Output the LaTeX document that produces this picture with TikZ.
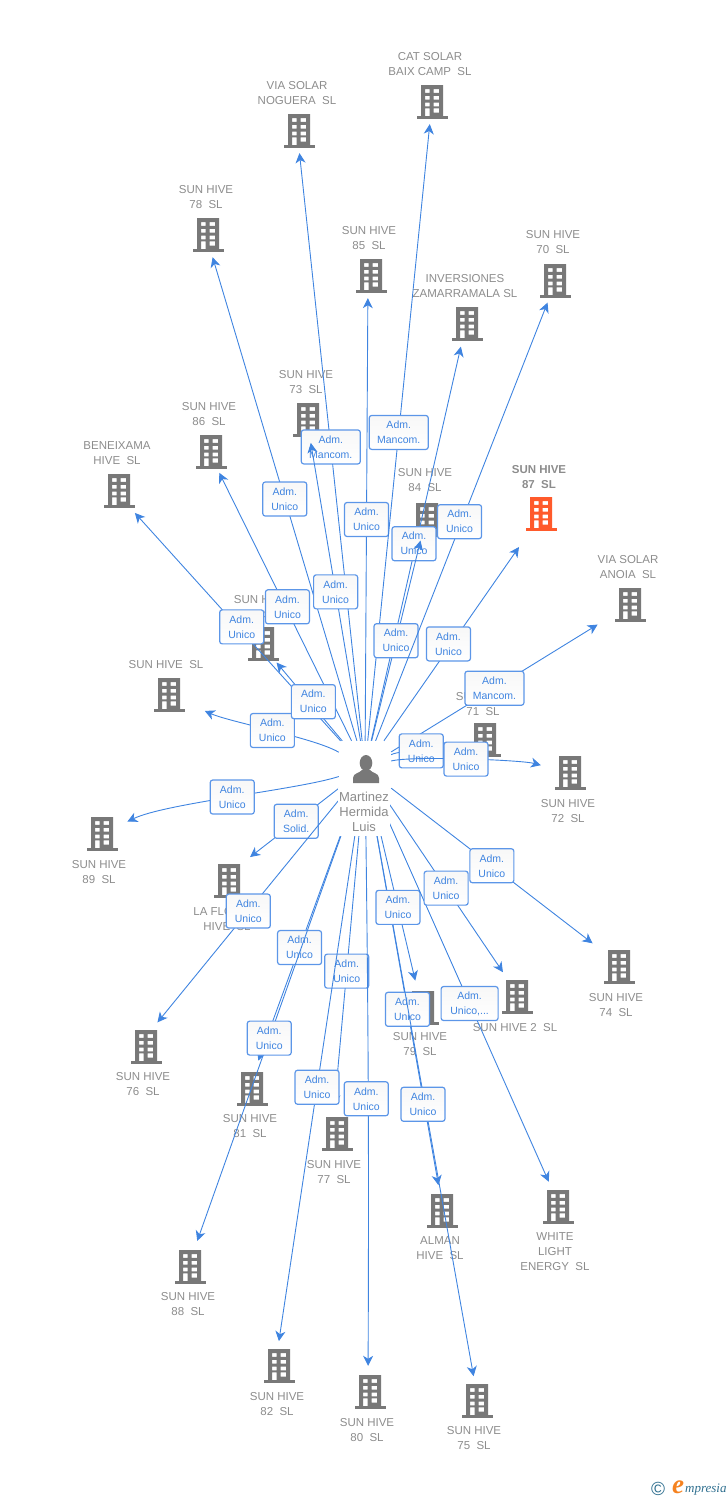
\documentclass[tikz,border=0pt]{standalone}
\usepackage{fontspec}
\setmainfont{Liberation Sans}
\newfontfamily\logofont{Liberation Serif}
\usetikzlibrary{arrows.meta}
\definecolor{sitegray}{HTML}{787878}
\definecolor{sitetextgray}{HTML}{8C8C8C}
\definecolor{siteorange}{HTML}{FF5A2B}
\definecolor{linkblue}{HTML}{3F84E0}
\definecolor{admblue}{HTML}{5C96E8}
\definecolor{admtext}{HTML}{3F84E0}
\definecolor{logoteal}{HTML}{2F6F8F}
\definecolor{logoorange}{HTML}{F58220}
\tikzset{
  site/.style={circle,minimum size=#1,inner sep=0pt},
  sitetext/.style={font=\fontsize{11.5}{15}\selectfont,text=sitetextgray,align=center,inner sep=0pt,yshift=-1pt},
  hubbox/.style={rectangle,minimum width=52pt,minimum height=54pt,inner sep=0pt},
  hubtext/.style={font=\fontsize{13}{15}\selectfont,text=sitetextgray,fill=white,align=center,inner sep=0pt,minimum width=52pt,minimum height=48pt},
  link/.style={draw=linkblue,line width=0.9pt,-{Stealth[length=10pt,width=10pt,inset=3pt]}},
  adm/.style={rectangle,rounded corners=2.5pt,draw=admblue,line width=1.2pt,top color=black!3,bottom color=white,
    text=admtext,font=\fontsize{10.5}{15}\selectfont,align=center,inner sep=0pt,minimum width=44pt,minimum height=34pt},
  admwide/.style={adm,minimum width=59pt},
  bldg/.pic={
    \fill [#1,even odd rule] (-11,-17) rectangle (11,14)
      (-7,-13) rectangle (-2.3,-9.1) (1.6,-13) rectangle (7,-9.1)
      (-7,-6.2) rectangle (-2.3,-2.4) (1.6,-6.2) rectangle (7,-2.4)
      (-7,0.5) rectangle (-2.3,4.3) (1.6,0.5) rectangle (7,4.3)
      (-7,6.3) rectangle (-2.3,14) (1.6,6.3) rectangle (7,10.5);
    \fill [#1] (-15.5,14) rectangle (15.5,17);
  },
  person/.pic={
    \fill [sitegray] (0,-7) ellipse (6.3 and 8);
    \fill [sitegray] (-13,13) -- (-13,8) .. controls (-13,3) and (-6,3) .. (-4,0) -- (4,0) .. controls (6,3) and (13,3) .. (13,8) -- (13,13) -- cycle;
  }
}
\begin{document}
\begin{tikzpicture}[x=1pt,y=-1pt]
\useasboundingbox (0,0) rectangle (728,1500);
\node [hubbox] (hub) at (365,768) {};
\pic at (366,770) {person};
% sites above the hub
\node [site=44] (nCat) at (432,102) {}; \pic at (432,102) {bldg=sitegray};
\node [sitetext] (tCat) at (430,63) {CAT SOLAR\\BAIX CAMP~~SL};
\node [site=46] (nNog) at (297,130) {}; \pic at (299,131) {bldg=sitegray};
\node [sitetext] (tNog) at (297,92) {VIA SOLAR\\NOGUERA~~SL};
\node [site=46] (n78) at (206,235) {}; \pic at (208,235) {bldg=sitegray};
\node [sitetext] (t78) at (206,196) {SUN HIVE\\78~~SL};
\node [site=44] (n85) at (368,276) {}; \pic at (371,276) {bldg=sitegray};
\node [sitetext] (t85) at (369,237) {SUN HIVE\\85~~SL};
\node [site=46] (nInv) at (466,324) {}; \pic at (467,324) {bldg=sitegray};
\node [sitetext] (tInv) at (465,285) {INVERSIONES\\ZAMARRAMALA SL};
\node [site=46] (n70) at (556,281) {}; \pic at (555,281) {bldg=sitegray};
\node [sitetext] (t70) at (553,241) {SUN HIVE\\70~~SL};
\node [site=46] (n73) at (307,420) {}; \pic at (308,420) {bldg=sitegray};
\node [sitetext] (t73) at (306,381) {SUN HIVE\\73~~SL};
\node [site=46] (n86) at (209,452) {}; \pic at (211,452) {bldg=sitegray};
\node [sitetext] (t86) at (209,413) {SUN HIVE\\86~~SL};
\node [site=56] (nBen) at (116,492) {}; \pic at (119,491) {bldg=sitegray};
\node [sitetext] (tBen) at (117,452) {BENEIXAMA\\HIVE~~SL};
\node [site=46] (n84) at (426,518) {}; \pic at (427,520) {bldg=sitegray};
\node [sitetext] (t84) at (425,479) {SUN HIVE\\84~~SL};
\node [site=80] (n87) at (542,514) {}; \pic at (541,514) {bldg=siteorange};
\node [sitetext,font=\bfseries\fontsize{11.5}{15}\selectfont] (t87) at (539,476) {SUN HIVE\\87~~SL};
\node [site=78] (nAno) at (631,604) {}; \pic at (630,605) {bldg=sitegray};
\node [sitetext] (tAno) at (628,566) {VIA SOLAR\\ANOIA~~SL};
\node [site=48] (n83) at (261,644) {}; \pic at (263,644) {bldg=sitegray};
\node [sitetext] (t83) at (261,606) {SUN HIVE\\83~~SL};
\node [site=78] (nSl) at (169,695) {}; \pic at (169,695) {bldg=sitegray};
\node [sitetext] (tSl) at (166,664) {SUN HIVE~~SL};
\node [site=68] (n71) at (485,740) {}; \pic at (485,740) {bldg=sitegray};
\node [sitetext] (t71) at (483,703) {SUN HIVE\\71~~SL};
\node [site=60] (n72) at (570,773) {}; \pic at (570,773) {bldg=sitegray};
\node [sitetext] (t72) at (568,810) {SUN HIVE\\72~~SL};
% sites below the hub
\node [site=56] (n89) at (102,834) {}; \pic at (102,834) {bldg=sitegray};
\node [sitetext] (t89) at (99,871) {SUN HIVE\\89~~SL};
\node [site=68] (nFlo) at (223,878) {}; \pic at (229,881) {bldg=sitegray};
\node [sitetext] (tFlo) at (227,918) {LA FLORIDA\\HIVE~~SL};
\node [site=58] (n76) at (139,1045) {}; \pic at (146,1047) {bldg=sitegray};
\node [sitetext] (t76) at (143,1083) {SUN HIVE\\76~~SL};
\node [site=74] (n74) at (622,966) {}; \pic at (619,967) {bldg=sitegray};
\node [sitetext] (t74) at (616,1004) {SUN HIVE\\74~~SL};
\node [site=57] (n2) at (519,996) {}; \pic at (517,997) {bldg=sitegray};
\node [sitetext] (t2) at (515,1027) {SUN HIVE 2~~SL};
\node [site=55] (nWhi) at (560,1207) {}; \pic at (558,1207) {bldg=sitegray};
\node [sitetext] (tWhi) at (555,1251) {WHITE\\LIGHT\\ENERGY~~SL};
\node [site=58] (n79) at (422,1009) {}; \pic at (423,1008) {bldg=sitegray};
\node [sitetext] (t79) at (420,1043) {SUN HIVE\\79~~SL};
\node [site=52] (nAlm) at (443,1211) {}; \pic at (442,1211) {bldg=sitegray};
\node [sitetext] (tAlm) at (440,1247) {ALMAN\\HIVE~~SL};
\node [site=50] (n75) at (478,1401) {}; \pic at (477,1401) {bldg=sitegray};
\node [sitetext] (t75) at (474,1437) {SUN HIVE\\75~~SL};
\node [site=52] (n80) at (368,1392) {}; \pic at (370,1392) {bldg=sitegray};
\node [sitetext] (t80) at (367,1429) {SUN HIVE\\80~~SL};
\node [site=58] (n77) at (332,1134) {}; \pic at (337,1134) {bldg=sitegray};
\node [sitetext] (t77) at (334,1171) {SUN HIVE\\77~~SL};
\node [site=52] (n82) at (275,1367) {}; \pic at (279,1366) {bldg=sitegray};
\node [sitetext] (t82) at (277,1403) {SUN HIVE\\82~~SL};
\node [site=60] (n81) at (248,1089) {}; \pic at (252,1089) {bldg=sitegray};
\node [sitetext] (t81) at (250,1125) {SUN HIVE\\81~~SL};
\node [site=55] (n88) at (188,1267) {}; \pic at (190,1267) {bldg=sitegray};
\node [sitetext] (t88) at (188,1303) {SUN HIVE\\88~~SL};
% links, in the order they overlap
\draw [link] (hub) to [out=149,in=336,looseness=0.5] node [adm] (aSl) {Adm.\\Unico} (nSl);
\draw [link] (hub) -- node [adm] (a78) {Adm.\\Unico} (n78);
\draw [link] (hub) -- node [adm,xshift=2pt] (a86) {Adm.\\Unico} (n86);
\draw [link] (hub) -- node [adm,xshift=4pt] (aBen) {Adm.\\Unico} (nBen);
\draw [link] (hub) -- node [adm,xshift=4pt] (a83) {Adm.\\Unico} (n83);
\draw [link] (hub) -- node [admwide] (aNog) {Adm.\\Mancom.} (nNog);
\draw [link] (hub) -- node [adm] (a73) {Adm.\\Unico} (n73);
\draw [link] (hub) -- node [adm] (a85) {Adm.\\Unico} (n85);
\draw [link] (hub) -- node [admwide] (aCat) {Adm.\\Mancom.} (nCat);
\draw [link] (hub) -- node [adm,xshift=-2pt] (aInv) {Adm.\\Unico} (nInv);
\draw [link] (hub) -- node [adm] (a84) {Adm.\\Unico} (n84);
\draw [link] (hub) -- node [adm,xshift=-2pt] (a70) {Adm.\\Unico} (n70);
\draw [link] (hub) -- node [adm,xshift=-3pt] (a87) {Adm.\\Unico} (n87);
\draw [link] (hub) -- node [admwide] (aAno) {Adm.\\Mancom.} (nAno);
\draw [link] (hub) to [out=27,in=195,looseness=0.5] node [adm] (a71) {Adm.\\Unico} (n71);
\draw [link] (hub) to [out=15,in=165,looseness=0.35] node [adm] (a72) {Adm.\\Unico} (n72);
\draw [link] (hub) to [out=198,in=26,looseness=0.5] node [adm] (a89) {Adm.\\Unico} (n89);
\draw [link] (hub) -- node [adm,pos=0.48] (aFlo) {Adm.\\Solid.} (nFlo);
\draw [link] (hub) -- node [adm,pos=0.51] (a76) {Adm.\\Unico} (n76);
\draw [link] (hub) -- node [adm,pos=0.574] (a81) {Adm.\\Unico} (n81);
\draw [link] (hub) -- node [adm,pos=0.545] (a88) {Adm.\\Unico} (n88);
\draw [link] (hub) -- node [adm,pos=0.568] (a77) {Adm.\\Unico} (n77);
\draw [link] (hub) -- node [adm,pos=0.535] (a82) {Adm.\\Unico} (n82);
\draw [link] (hub) to [bend left=0.5] node [adm,xshift=-2pt,pos=0.535] (a80) {Adm.\\Unico} (n80);
\draw [link] (hub) -- node [adm,pos=0.549] (aAlm) {Adm.\\Unico} (nAlm);
\draw [link] (hub) -- node [adm,xshift=-2pt,pos=0.532] (a75) {Adm.\\Unico} (n75);
\draw [link] (hub) -- node [adm,pos=0.605] (a79) {Adm.\\Unico} (n79);
\draw [link] (hub) -- node [admwide,minimum width=57pt,pos=0.539] (aWhi) {Adm.\\Unico,...} (nWhi);
\draw [link] (hub) -- node [adm,pos=0.525] (a2) {Adm.\\Unico} (n2);
\draw [link] (hub) -- node [adm] (a74) {Adm.\\Unico} (n74);
% goes over the start of the lower links
\node [hubtext] (hubname) at (364,812) {Martinez\\Hermida\\Luis};
% logo
\node [text=logoteal,font=\fontsize{19}{19}\selectfont,inner sep=0pt] (logoc) at (658,1489) {\textcopyright};
\node [text=logoorange,font=\logofont\bfseries\itshape\fontsize{27}{27}\selectfont,inner sep=0pt] (logoe) at (678,1487) {e};
\node [text=logoteal,font=\logofont\itshape\fontsize{13}{14}\selectfont,inner sep=0pt,anchor=west] (logow) at (685,1490) {mpresia};
\end{tikzpicture}
\end{document}
